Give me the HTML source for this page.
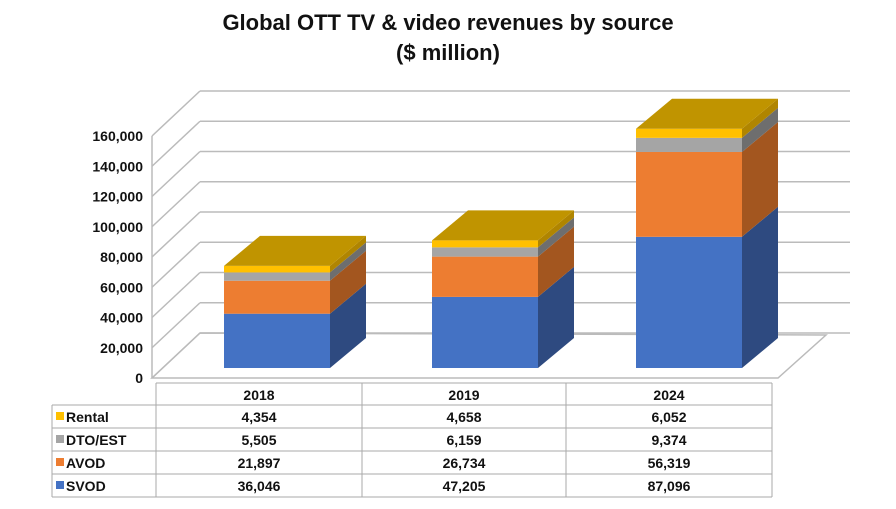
<!DOCTYPE html>
<html><head><meta charset="utf-8"><style>
body{margin:0;background:#fff;width:896px;height:504px;overflow:hidden;font-family:"Liberation Sans",Arial,sans-serif}
svg text{font-family:"Liberation Sans",Arial,sans-serif;font-weight:bold}
</style></head><body>
<svg id="chart" width="896" height="504" viewBox="0 0 896 504" xmlns="http://www.w3.org/2000/svg">
<text x="448" y="30" text-anchor="middle" font-size="22" fill="#111">Global OTT TV &amp; video revenues by source</text>
<text x="448" y="60" text-anchor="middle" font-size="22" fill="#111">($ million)</text>
<g id="grid"></g>
<g id="bars"></g>
<g id="table"></g>
</svg>
<script>
const categories = ["2018","2019","2024"];
const seriesNames = ["SVOD","AVOD","DTO/EST","Rental"];
const svod = [36046,47205,87096];
const avod = [21897,26734,56319];
const dto = [5505,6159,9374];
const rental = [4354,4658,6052];
const yTicks = [0,20000,40000,60000,80000,100000,120000,140000,160000];
const yTickLabels = ["0","20,000","40,000","60,000","80,000","100,000","120,000","140,000","160,000"];

const NS="http://www.w3.org/2000/svg";
function mk(tag,attrs,parent){const e=document.createElementNS(NS,tag);for(const k in attrs)e.setAttribute(k,attrs[k]);parent.appendChild(e);return e;}
const grid=document.getElementById('grid'),bars=document.getElementById('bars'),table=document.getElementById('table');
const yMax=160000;
function yFront(v){return 378-v/yMax*242;}
function yBack(v){return 333-v/yMax*242;}
function yBar(v){return 368-v/yMax*241;}
const fx=152,bx=200,rx=850;
// floor
let fl=mk('polygon',{points:`${fx},378 778,378 826,335 ${bx},333`,fill:'none',stroke:'#bbb','stroke-width':1.5},grid);


let vl=mk('line',{x1:fx,y1:yFront(yMax),x2:fx,y2:378,stroke:'#bbb','stroke-width':1.5},grid);


yTicks.forEach((t,i)=>{
  const d=mk('line',{x1:fx,y1:yFront(t),x2:bx,y2:yBack(t),stroke:'#bbb','stroke-width':1.5},grid);
  
  
  const h=mk('line',{x1:bx,y1:yBack(t),x2:rx,y2:yBack(t),stroke:'#bbb','stroke-width':1.5},grid);
  
  
  const tx=mk('text',{x:143,y:yFront(t)+5,'text-anchor':'end','font-size':14,fill:'#111'},grid);
  tx.textContent=yTickLabels[i];
  
  
});
// bars
const barX=[224,432,636], bw=106, dx=36, dy=-30;
const fronts=['#4472c4','#ed7d31','#a5a5a5','#ffc000'];
const sides=['#2e4a80','#a3561f','#6e6e6e','#b08500'];
const series=[svod,avod,dto,rental];
categories.forEach((c,i)=>{
  let cum=0;const x=barX[i];
  series.forEach((s,j)=>{
    const y0=yBar(cum),y1=yBar(cum+s[i]);cum+=s[i];
    const f=mk('rect',{x:x,y:y1,width:bw,height:y0-y1,fill:fronts[j]},bars);
    
    
    const sd=mk('polygon',{points:`${x+bw},${y0} ${x+bw+dx},${y0+dy} ${x+bw+dx},${y1+dy} ${x+bw},${y1}`,fill:sides[j]},bars);
    
    
  });
  const yt=yBar(cum);
  const tp=mk('polygon',{points:`${x},${yt} ${x+bw},${yt} ${x+bw+dx},${yt+dy} ${x+dx},${yt+dy}`,fill:'#c09400'},bars);
  
  
});
// table
const cols=[52,156,362,566,772];
const rows=[383,405,428,451,474,497];
const lc='#aaa';
mk('line',{x1:cols[1],y1:rows[0],x2:cols[4],y2:rows[0],stroke:lc},table);
for(let r=1;r<rows.length;r++)mk('line',{x1:cols[0],y1:rows[r],x2:cols[4],y2:rows[r],stroke:lc},table);
mk('line',{x1:cols[0],y1:rows[1],x2:cols[0],y2:rows[5],stroke:lc},table);
for(let c=1;c<cols.length;c++)mk('line',{x1:cols[c],y1:rows[0],x2:cols[c],y2:rows[5],stroke:lc},table);
categories.forEach((c,i)=>{
  const t=mk('text',{x:(cols[i+1]+cols[i+2])/2,y:rows[0]+17,'text-anchor':'middle','font-size':14,fill:'#111'},table);
  t.textContent=c;
  
  
});
const order=[3,2,1,0];
order.forEach((j,r)=>{
  const yy=rows[r+1];
  const sw=mk('rect',{x:56,y:yy+7,width:8,height:8,fill:fronts[j]},table);
  
  
  const lt=mk('text',{x:66,y:yy+17,'font-size':14,fill:'#111'},table);
  lt.textContent=seriesNames[j];
  
  
  categories.forEach((c,i)=>{
    const vt=mk('text',{x:(cols[i+1]+cols[i+2])/2,y:yy+17,'text-anchor':'middle','font-size':14,fill:'#111'},table);
    vt.textContent=series[j][i].toLocaleString('en-US');
    
    
  });
});
</script>
</body></html>
